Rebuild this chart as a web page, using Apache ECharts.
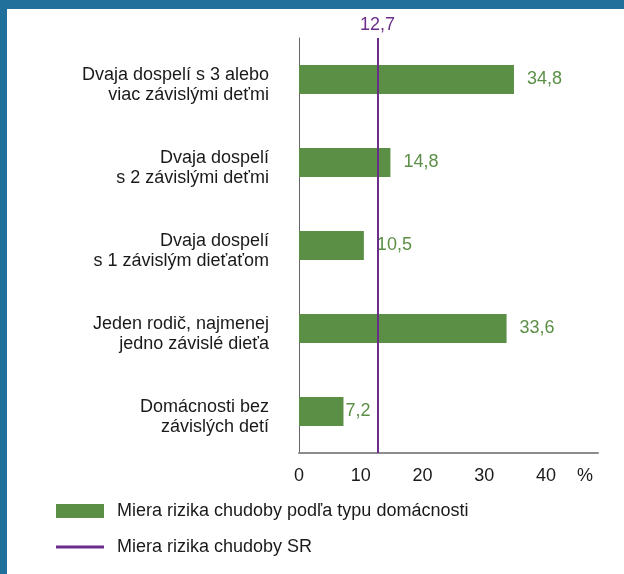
<!DOCTYPE html>
<html>
<head>
<meta charset="utf-8">
<script src="https://cdn.jsdelivr.net/npm/echarts@6/dist/echarts.min.js"></script>
<style>
  html, body { margin: 0; padding: 0; background: #ffffff; }
  #chart { width: 624px; height: 574px; }
</style>
</head>
<body>
<div id="chart"></div>
<script>
const categories = [
  'Dvaja dospelí s 3 alebo\nviac závislými deťmi',
  'Dvaja dospelí\ns 2 závislými deťmi',
  'Dvaja dospelí\ns 1 závislým dieťaťom',
  'Jeden rodič, najmenej\njedno závislé dieťa',
  'Domácnosti bez\nzávislých detí'
]
const riskByType = [34.8, 14.8, 10.5, 33.6, 7.2]
const riskSR = 12.7
const xTicks = [0, 10, 20, 30, 40]
const seriesNames = [
  'Miera rizika chudoby podľa typu domácnosti',
  'Miera rizika chudoby SR'
]

const green = '#5b8f46'
const purple = '#6b2d8a'
const textColor = '#1a1a1a'
const font = 'Liberation Sans, Arial, sans-serif'

const fmt = (v) => String(v).replace('.', ',')

const chart = echarts.init(document.getElementById('chart'))

chart.setOption({
  animation: false,
  textStyle: { fontFamily: font },
  grid: { left: 299, right: 26, top: 38, bottom: 121, containLabel: false },
  xAxis: {
    type: 'value',
    min: 0,
    max: 48.4,
    interval: 10,
    axisLine: { show: true, lineStyle: { color: '#8c8c8c', width: 2 } },
    axisTick: { show: false },
    splitLine: { show: false },
    axisLabel: {
      color: textColor,
      fontSize: 18,
      margin: 14,
      formatter: (v) => (xTicks.includes(v) ? String(v) : '')
    }
  },
  yAxis: {
    type: 'category',
    inverse: true,
    data: categories,
    axisLine: { show: true, lineStyle: { color: '#666666', width: 1 } },
    axisTick: { show: false },
    axisLabel: {
      color: textColor,
      fontSize: 18,
      lineHeight: 20,
      margin: 30,
      align: 'right',
      // a thin empty first line nudges the two text lines a little lower
      formatter: (v) => '{gap| }\n' + v.split('\n').map((s) => '{t|' + s + '}').join('\n'),
      rich: {
        gap: { fontSize: 4, lineHeight: 12 },
        t: { color: textColor, fontSize: 18, lineHeight: 20, fontFamily: font }
      }
    }
  },
  legend: {
    orient: 'vertical',
    left: 51,
    top: 497,
    itemWidth: 48,
    itemHeight: 14,
    itemGap: 18,
    textStyle: { color: textColor, fontSize: 18, padding: [0, 0, 0, 8] },
    data: [
      { name: seriesNames[0], icon: 'rect' },
      { name: seriesNames[1], icon: 'path://M0,0 H48 V3 H0 Z' }
    ]
  },
  series: [
    {
      name: seriesNames[0],
      type: 'bar',
      barWidth: 29,
      itemStyle: { color: green },
      label: {
        show: true,
        position: 'right',
        distance: 13,
        color: green,
        fontSize: 18,
        formatter: (p) => fmt(p.value)
      },
      data: riskByType.map((v, i) =>
        i === riskByType.length - 1 ? { value: v, label: { distance: 2 } } : v
      )
    },
    {
      name: seriesNames[1],
      type: 'line',
      color: purple,
      data: [],
      markLine: {
        silent: true,
        symbol: 'none',
        lineStyle: { color: purple, width: 2, type: 'solid' },
        label: {
          show: true,
          position: 'start',
          distance: 4,
          color: purple,
          fontSize: 18,
          formatter: () => fmt(riskSR)
        },
        data: [{ xAxis: riskSR }]
      }
    }
  ],
  graphic: [
    { type: 'rect', left: 0, top: 0, shape: { width: 624, height: 9 }, style: { fill: '#21709c' } },
    { type: 'rect', left: 0, top: 0, shape: { width: 7, height: 574 }, style: { fill: '#21709c' } }
  ]
})

// "%" unit label beside the last tick, placed through the axis scale
const pctX = chart.convertToPixel({ xAxisIndex: 0 }, 46.3)
chart.setOption({
  graphic: [
    {},
    {},
    {
      type: 'text',
      x: pctX,
      y: 476,
      style: {
        text: '%',
        fill: textColor,
        fontSize: 18,
        fontFamily: font,
        align: 'center',
        verticalAlign: 'middle'
      }
    }
  ]
})
</script>
</body>
</html>
